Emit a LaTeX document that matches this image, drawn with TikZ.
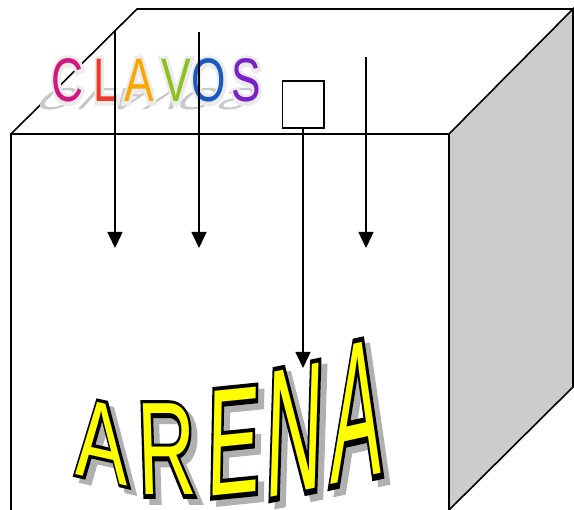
\documentclass[tikz,border=0pt]{standalone}
\usepackage{fontspec}
\setmainfont{Liberation Sans}
\newfontfamily\arenaf{Liberation Sans}
\newfontfamily\arenaout[FakeBold=6]{Liberation Sans}
\newfontfamily\clavf{Liberation Sans}
\newfontfamily\clavglow[FakeBold=12]{Liberation Sans}
\usetikzlibrary{arrows.meta}
\definecolor{cubegray}{HTML}{CCCCCC}
\definecolor{arenayellow}{HTML}{FFFF00}
\definecolor{arenashade}{HTML}{B0B0B0}
\definecolor{glowgray}{HTML}{EBEBEB}
\definecolor{reflgray}{HTML}{C8C8C8}
\definecolor{cC}{HTML}{D0187F}
\definecolor{cL}{HTML}{EE3A2A}
\definecolor{cA}{HTML}{F8A800}
\definecolor{cV}{HTML}{8CC21E}
\definecolor{cO}{HTML}{1A5AC0}
\definecolor{cS}{HTML}{7A22C8}
\tikzset{
  edge/.style={line width=1.6pt, line join=miter},
  pin/.style={line width=1.5pt, -{Triangle[width=15pt,length=16pt]}},
  glyph/.style={inner sep=0pt, outer sep=0pt, anchor=base, transform shape},
  arshadow/.style={glyph, text=arenashade, font=\arenaout\fontsize{100pt}{100pt}\selectfont},
  arout/.style={glyph, text=black, font=\arenaout\fontsize{100pt}{100pt}\selectfont},
  arfill/.style={glyph, text=arenayellow, font=\arenaf\fontsize{100pt}{100pt}\selectfont},
  clglow/.style={glyph, text=glowgray, font=\clavglow\fontsize{61.5pt}{61.5pt}\selectfont},
  clrefl/.style={glyph, text=reflgray, font=\clavf\fontsize{61.5pt}{61.5pt}\selectfont},
  cltext/.style={glyph, font=\clavf\fontsize{61.5pt}{61.5pt}\selectfont},
}
% style, name, x, y, a, b, c, d, letter
\newcommand\arenaL[9]{%
  \begin{scope}[shift={(#3,#4)}, cm={#5,#6,#7,#8,(0,0)}]
    \node[#1] (#2) at (0,0) {#9};
  \end{scope}}
% name, x, colour, letter
\newcommand\clavL[4]{%
  \begin{scope}[shift={(#2,102)}, xscale=0.72]
    \node[clglow] (g#1) at (0,0) {#4};
    \node[cltext, text=#3] (t#1) at (0,0) {#4};
  \end{scope}}
\newcommand\clavR[3]{%
  \begin{scope}[shift={(#2,89)}, cm={0.76,0,-0.45,-0.5,(0,0)}]
    \node[clrefl] (r#1) at (0,0) {#3};
  \end{scope}}
\begin{document}
\begin{tikzpicture}[x=1pt,y=-1pt]
\useasboundingbox (0,0) rectangle (574,510);
% cube
\fill[cubegray] (449,134) -- (573,9) -- (573,387) -- (449,510) -- cycle;
\draw[edge] (449,510) -- (449,134) -- (573,9) -- (573,387) -- (449,510);
\draw[edge] (11,510) -- (11,134) -- (449,134);
\draw[edge] (11,134) -- (137,9) -- (573,9);
% CLAVOS reflection
\clavR{C}{67.5}{C}
\clavR{L}{106}{L}
\clavR{A}{139}{A}
\clavR{V}{176.5}{V}
\clavR{O}{209}{O}
\clavR{S}{246.5}{S}
% CLAVOS
\clavL{C}{67.5}{cC}{C}
\clavL{L}{106}{cL}{L}
\clavL{A}{139}{cA}{A}
\clavL{V}{176.5}{cV}{V}
\clavL{O}{209}{cO}{O}
\clavL{S}{246.5}{cS}{S}
% ARENA shadows
\arenaL{arshadow}{sA1}{108}{486}{0.78}{-0.175}{0}{1.12}{A}
\arenaL{arshadow}{sR}{174}{501}{0.8}{0}{-0.04}{1.32}{R}
\arenaL{arshadow}{sE}{238.5}{500}{0.79}{0.08}{0.03}{1.52}{E}
\arenaL{arshadow}{sN}{299}{499}{0.79}{0.16}{0.056}{1.82}{N}
\arenaL{arshadow}{sA2}{362}{485}{0.76}{0.17}{0.03}{1.97}{A}
% ARENA outlines
\arenaL{arout}{oA1}{102}{480}{0.78}{-0.175}{0}{1.12}{A}
\arenaL{arout}{oR}{168}{495}{0.8}{0}{-0.04}{1.32}{R}
\arenaL{arout}{oE}{232.5}{494}{0.79}{0.08}{0.03}{1.52}{E}
\arenaL{arout}{oN}{293}{493}{0.79}{0.16}{0.056}{1.82}{N}
\arenaL{arout}{oA2}{356}{479}{0.76}{0.17}{0.03}{1.97}{A}
% ARENA fills
\arenaL{arfill}{fA1}{102}{480}{0.78}{-0.175}{0}{1.12}{A}
\arenaL{arfill}{fR}{168}{495}{0.8}{0}{-0.04}{1.32}{R}
\arenaL{arfill}{fE}{232.5}{494}{0.79}{0.08}{0.03}{1.52}{E}
\arenaL{arfill}{fN}{293}{493}{0.79}{0.16}{0.056}{1.82}{N}
\arenaL{arfill}{fA2}{356}{479}{0.76}{0.17}{0.03}{1.97}{A}
% square and arrows
\node[draw, fill=white, line width=1.6pt, minimum width=41.4pt, minimum height=47.4pt, inner sep=0pt] (sq) at (303,104.5) {};
\coordinate (s1) at (115,31);
\coordinate (e1) at (115,248);
\coordinate (s2) at (199,32);
\coordinate (e2) at (199,248);
\coordinate (s3) at (366,57);
\coordinate (e3) at (366,248);
\coordinate (e4) at (303,368);
\draw[pin] (s1) -- (e1);
\draw[pin] (s2) -- (e2);
\draw[pin] (s3) -- (e3);
\draw[pin] (sq.south) -- (e4);
\end{tikzpicture}
\end{document}
